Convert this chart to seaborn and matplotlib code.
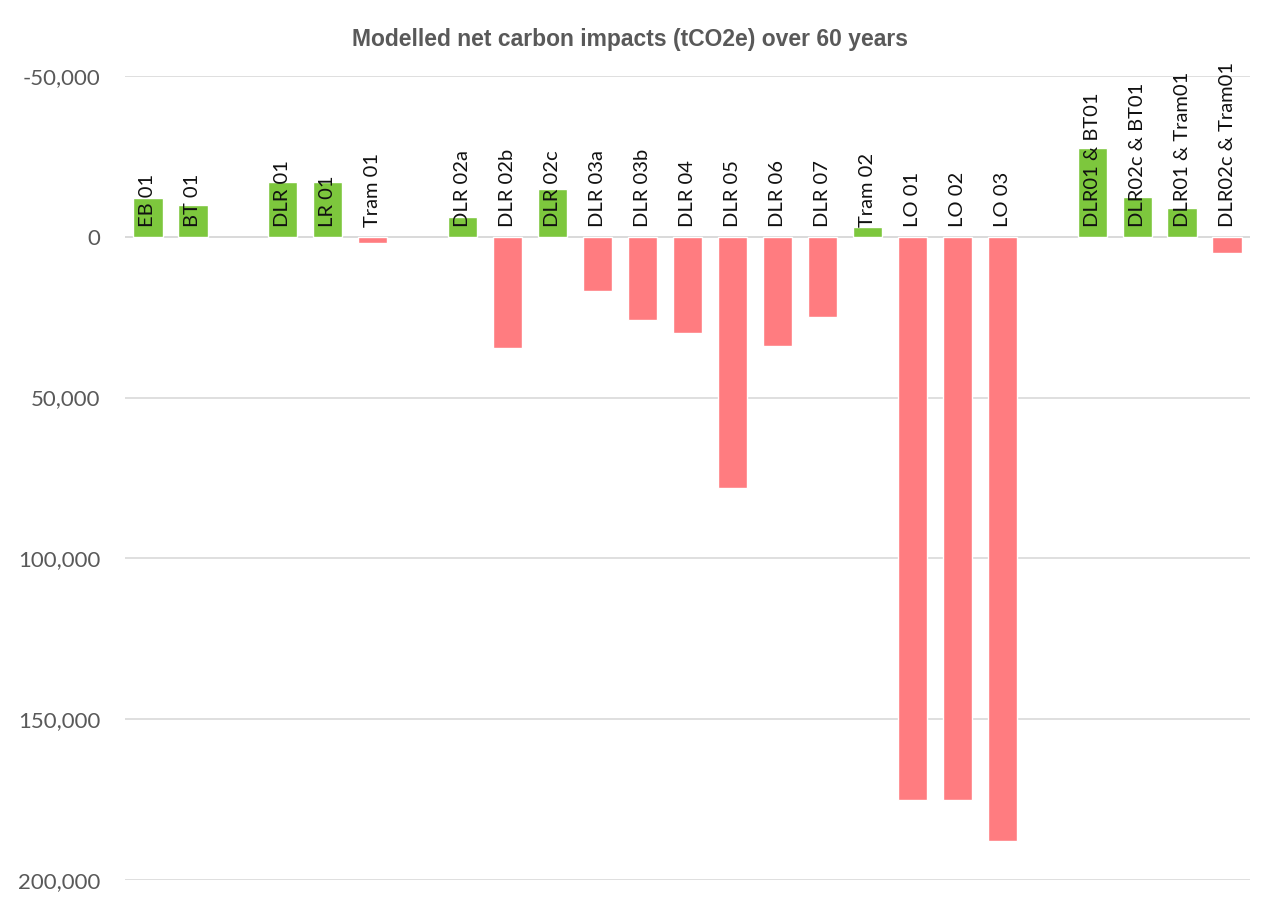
import numpy as np
import pandas as pd
import matplotlib
matplotlib.use("Agg")
import matplotlib.pyplot as plt
import seaborn as sns
from matplotlib.ticker import FuncFormatter

# Scheme names; None marks an empty spacer slot between groups
schemes = ["EB 01", "BT 01", None, "DLR 01", "LR 01", "Tram 01", None,
           "DLR 02a", "DLR 02b", "DLR 02c", "DLR 03a", "DLR 03b", "DLR 04",
           "DLR 05", "DLR 06", "DLR 07", "Tram 02", "LO 01", "LO 02", "LO 03",
           None, "DLR01 & BT01", "DLR02c & BT01", "DLR01 & Tram01",
           "DLR02c & Tram01"]

# Net carbon impact (tCO2e) over 60 years; negative = net saving
net_tco2e = [-12000, -10000, None, -17000, -17000, 2000, None,
             -6000, 34500, -15000, 17000, 26000, 30000,
             78000, 34000, 25000, -3000, 175000, 175000, 188000,
             None, -27500, -12500, -9000, 5000]

y_ticks = [-50000, 0, 50000, 100000, 150000, 200000]

GREEN = "#7DC73D"
RED = "#FF7C80"
GREY = "#595959"

rows = [(i, name, val) for i, (name, val) in enumerate(zip(schemes, net_tco2e))
        if name is not None]
df = pd.DataFrame(rows, columns=["slot", "scheme", "tco2e"])
df["impact"] = np.where(df["tco2e"] < 0, "saving", "emission")

sns.set_theme(style="white")
plt.rcParams["font.family"] = ["Lato", "DejaVu Sans"]

fig = plt.figure(figsize=(12.66, 8.97), dpi=100)
ax = fig.add_axes([0.0991, 0.019, 0.8879, 0.8963])

sns.barplot(data=df, x="slot", y="tco2e", hue="impact",
            palette={"saving": GREEN, "emission": RED},
            native_scale=True, dodge=False, width=0.65,
            saturation=1, legend=False, ax=ax, zorder=3)

n_slots = len(schemes)
ax.set_xlim(-0.5, n_slots - 0.5)
ax.set_ylim(200000, -50000)
ax.set_yticks(y_ticks)
ax.yaxis.set_major_formatter(FuncFormatter(lambda v, p: f"{v:,.0f}"))
ax.tick_params(axis="y", labelsize=16, labelcolor=GREY, length=0, pad=18)
ax.set_xticks([])
ax.set_xlabel("")
ax.set_ylabel("")
ax.grid(axis="y", color="#D9D9D9", linewidth=1.2, zorder=0)
ax.axhline(0, color="#D9D9D9", linewidth=1.2, zorder=1)
for s in ax.spines.values():
    s.set_visible(False)

# Scheme names written upright just above the zero line
for _, r in df.iterrows():
    ax.text(r["slot"], -3000, r["scheme"], rotation=90, ha="center",
            va="bottom", fontsize=14.5, color="#111111", zorder=4)

fig.text(0.4976, 0.956, "Modelled net carbon impacts (tCO2e) over 60 years",
         ha="center", va="center", fontsize=16.5, fontweight="bold",
         color=GREY, family=["Liberation Sans Narrow", "Liberation Sans", "DejaVu Sans"])

fig.savefig("out.png", dpi=100, facecolor="white")
